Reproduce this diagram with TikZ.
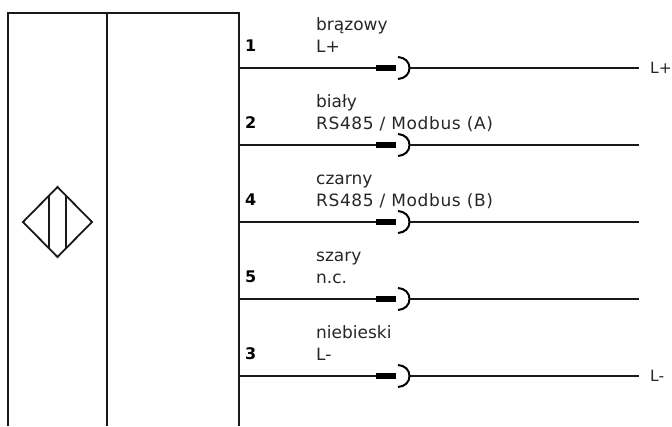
\documentclass[tikz,border=0pt]{standalone}
\usepackage{fontspec}
\setmainfont{DejaVu Sans}
\tikzset{
  wire/.style={line width=1.9pt,draw=black!90},
  frame/.style={line width=1.8pt,draw=black!90},
  plug/.style={line width=6pt,draw=black},
  socket/.style={line width=2pt,draw=black},
  label/.style={font=\fontsize{17pt}{19pt}\selectfont,anchor=base west,inner sep=0pt,text=black!85},
  endlabel/.style={font=\fontsize{15.5pt}{18pt}\selectfont,anchor=base west,inner sep=0pt,text=black!85},
  pin/.style={font=\fontsize{16pt}{18pt}\selectfont\bfseries,anchor=base west,inner sep=0pt},
}
\newcommand{\modA}{\addfontfeatures{LetterSpace=3.6}RS485 / Modbus (A)}
\newcommand{\modB}{\addfontfeatures{LetterSpace=3.6}RS485 / Modbus (B)}
\begin{document}
\begin{tikzpicture}[x=1pt,y=-1pt]
\useasboundingbox (0,0) rectangle (672,426);
% housing
\coordinate (bl) at (8,426); \coordinate (tl) at (8,13);
\coordinate (tr) at (239,13); \coordinate (br) at (239,426);
\coordinate (mt) at (107,13); \coordinate (mb) at (107,426);
\draw[frame] (bl) -- (tl) -- (tr) -- (br);
\draw[frame] (mt) -- (mb);
% sensor symbol
\coordinate (dl) at (23,222); \coordinate (dt) at (57.5,187);
\coordinate (dr) at (92,222); \coordinate (db) at (57.5,257);
\draw[frame] (dl) -- (dt) -- (dr) -- (db) -- cycle;
\coordinate (v1t) at (49,195.5); \coordinate (v1b) at (49,248.5);
\coordinate (v2t) at (66,195.5); \coordinate (v2b) at (66,248.5);
\draw[frame] (v1t) -- (v1b);
\draw[frame] (v2t) -- (v2b);
% wires
\foreach \n/\y/\pinno/\ta/\tb in {
  a/68/1/brązowy/L+,
  b/145/2/biały/\modA,
  c/222/4/czarny/\modB,
  d/299/5/szary/n.c.,
  e/376/3/niebieski/L-}{
  \coordinate (s\n) at (239,\y);
  \coordinate (p1\n) at (376,\y);
  \coordinate (p2\n) at (396,\y);
  \coordinate (q\n) at (409.5,\y);
  \coordinate (t\n) at (639,\y);
  \coordinate (ct\n) at (398,\y-11);
  \coordinate (cb\n) at (398,\y+11);
  \draw[wire] (s\n) -- (p1\n);
  \draw[plug] (p1\n) -- (p2\n);
  \draw[socket] (ct\n) .. controls +(7,0.5) and +(0,-6) .. (q\n) .. controls +(0,6) and +(7,-0.5) .. (cb\n);
  \draw[wire] (q\n) -- (t\n);
  \node[pin] (n\n) at (245,\y-17) {\pinno};
  \node[label] (l\n) at (316,\y-16) {\tb};
  \node[label] (u\n) at (316,\y-38) {\ta};
}
\node[endlabel] (ep) at (650,73) {L+};
\node[endlabel] (em) at (650,381) {L-};
\end{tikzpicture}
\end{document}
